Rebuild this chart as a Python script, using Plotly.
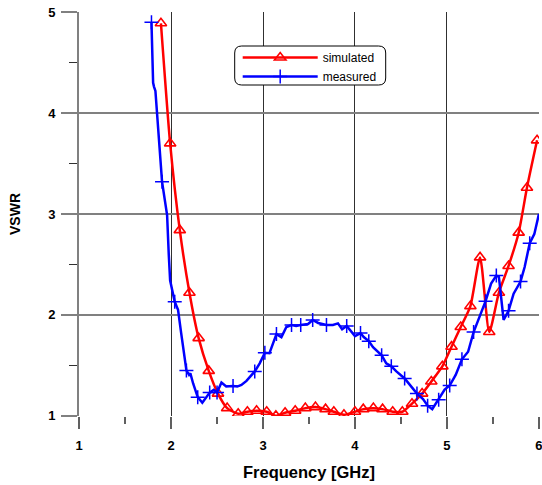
import plotly.graph_objects as go

# ---------------- data ----------------
sim_freq = [1.89, 1.99, 2.095, 2.20, 2.30, 2.41, 2.51, 2.61, 2.73, 2.83, 2.93, 3.04,
            3.14, 3.24, 3.35, 3.46, 3.57, 3.68, 3.77, 3.88, 4.00, 4.09, 4.20, 4.30,
            4.41, 4.515, 4.62, 4.73, 4.83, 4.95, 5.05, 5.15, 5.255, 5.36, 5.46, 5.565,
            5.67, 5.78, 5.87, 5.98]
sim_vswr = [4.89, 3.70, 2.84, 2.22, 1.77, 1.445, 1.22, 1.076, 1.02, 1.04, 1.05, 1.04,
            1.00, 1.03, 1.05, 1.076, 1.086, 1.066, 1.04, 1.01, 1.04, 1.066, 1.076, 1.066,
            1.04, 1.04, 1.12, 1.22, 1.34, 1.49, 1.685, 1.88, 2.087, 2.57, 1.83, 2.22,
            2.485, 2.815, 3.26, 3.73]

meas_freq = [1.787, 1.805, 1.815, 1.83, 1.902, 1.93, 1.957, 1.975, 1.99, 2.04,
             2.076, 2.11, 2.167, 2.196, 2.21, 2.24, 2.29, 2.34, 2.385, 2.42,
             2.464, 2.50, 2.548, 2.60, 2.674, 2.72, 2.765, 2.82, 2.91, 2.964,
             3.02, 3.07, 3.11, 3.146, 3.20, 3.254, 3.31, 3.36, 3.41, 3.49,
             3.54, 3.60, 3.69, 3.76, 3.815, 3.86, 3.91, 4.00, 4.06, 4.095,
             4.15, 4.196, 4.29, 4.34, 4.395, 4.45, 4.54, 4.595, 4.674, 4.74,
             4.79, 4.84, 4.91, 4.975, 5.03, 5.095, 5.163, 5.23, 5.29, 5.36,
             5.42, 5.48, 5.537, 5.565, 5.60, 5.616, 5.67, 5.725, 5.80, 5.845,
             5.90, 5.95, 6.00]
meas_vswr = [4.90, 4.30, 4.26, 4.22, 3.32, 3.13, 2.99, 2.60, 2.34, 2.13,
             2.05, 1.82, 1.45, 1.405, 1.42, 1.32, 1.185, 1.13, 1.19, 1.23,
             1.257, 1.23, 1.33, 1.29, 1.296, 1.29, 1.306, 1.346, 1.44, 1.52,
             1.625, 1.62, 1.72, 1.81, 1.78, 1.88, 1.90, 1.89, 1.90, 1.91,
             1.95, 1.92, 1.90, 1.90, 1.916, 1.857, 1.89, 1.79, 1.82, 1.78,
             1.74, 1.68, 1.60, 1.52, 1.49, 1.44, 1.37, 1.31, 1.22, 1.165,
             1.10, 1.066, 1.16, 1.26, 1.30, 1.405, 1.56, 1.635, 1.83, 2.00,
             2.136, 2.31, 2.39, 2.376, 2.08, 1.95, 2.04, 2.21, 2.33, 2.475,
             2.71, 2.80, 3.00]
# indices of measured points that carry a "+" marker
meas_marker_idx = [0, 4, 9, 12, 16, 19, 21, 24, 28, 30, 33, 36, 38, 40, 42, 46,
                   48, 50, 52, 54, 56, 58, 60, 62, 64, 66, 68, 70, 72, 76, 78, 80]

x_ticks = [1, 2, 3, 4, 5, 6]
y_ticks = [1, 2, 3, 4, 5]

# ---------------- styling ----------------
FONT = "Arial, Liberation Sans, sans-serif"
RED = "#ff0000"
BLUE = "#0000ff"
W, H = 542, 485
L, R, T, B = 79.3, 2.7, 12, 69
PW, PH = W - L - R, H - T - B


def px2paper(px, py):
    return (px - L) / PW, (H - B - py) / PH


fig = go.Figure()

fig.add_trace(go.Scatter(
    x=sim_freq, y=sim_vswr, mode="lines+markers", name="simulated",
    line=dict(color=RED, width=2.5, shape="spline", smoothing=0.6),
    marker=dict(symbol="triangle-up-open", size=10, color=RED,
                line=dict(color=RED, width=1.6)),
))

fig.add_trace(go.Scatter(
    x=meas_freq, y=meas_vswr, mode="lines", name="measured",
    line=dict(color=BLUE, width=2.5), showlegend=False, legendgroup="m",
))
fig.add_trace(go.Scatter(
    x=[meas_freq[i] for i in meas_marker_idx],
    y=[meas_vswr[i] for i in meas_marker_idx],
    mode="markers", name="measured", showlegend=False, legendgroup="m",
    marker=dict(symbol="cross-thin-open", size=10, color=BLUE,
                line=dict(color=BLUE, width=1.5)),
))
# legend entry for measured (line + marker)
fig.add_trace(go.Scatter(
    x=[None], y=[None], mode="lines+markers", name="measured", legendgroup="m",
    line=dict(color=BLUE, width=2.5),
    marker=dict(symbol="cross-thin-open", size=10, color=BLUE,
                line=dict(color=BLUE, width=1.5)),
))

# rounded legend frame
x0, y1 = px2paper(235, 46)
x1, y0 = px2paper(386, 85)
rx, ry = 7 / PW, 7 / PH
path = (f"M {x0+rx},{y1} L {x1-rx},{y1} Q {x1},{y1} {x1},{y1-ry} "
        f"L {x1},{y0+ry} Q {x1},{y0} {x1-rx},{y0} "
        f"L {x0+rx},{y0} Q {x0},{y0} {x0},{y0+ry} "
        f"L {x0},{y1-ry} Q {x0},{y1} {x0+rx},{y1} Z")
fig.add_shape(type="path", path=path, xref="paper", yref="paper",
              line=dict(color="black", width=1), fillcolor="white", layer="above")

lx, ly = px2paper(238, 43)

fig.update_layout(
    width=W, height=H,
    margin=dict(l=L, r=R, t=T, b=B, pad=0),
    paper_bgcolor="white", plot_bgcolor="white",
    font=dict(family=FONT, color="black"),
    showlegend=True,
    legend=dict(x=lx, y=ly, xanchor="left", yanchor="top",
                bgcolor="rgba(0,0,0,0)", borderwidth=0,
                font=dict(family=FONT, size=12, color="black"),
                itemwidth=75, traceorder="normal", tracegroupgap=0),
    xaxis=dict(
        range=[0.999, 6.001], tickvals=x_ticks, ticktext=[str(v) for v in x_ticks],
        showgrid=True, gridcolor="#303030", gridwidth=1,
        ticks="outside", ticklen=12, tickcolor="#606060", tickwidth=1.5,
        minor=dict(dtick=0.5, ticks="outside", ticklen=7, tickcolor="#606060",
                   tickwidth=1.5, showgrid=False),
        showline=False, zeroline=False,
        ticklabeloverflow="allow", ticklabelstandoff=5,
        tickfont=dict(family=FONT, size=13, weight="bold"),
        title=dict(text="Frequency [GHz]", standoff=14,
                   font=dict(family=FONT, size=16.5, weight="bold")),
        automargin=False,
    ),
    yaxis=dict(
        range=[0.998, 5.002], tickvals=y_ticks, ticktext=[str(v) for v in y_ticks],
        showgrid=True, gridcolor="#808080", gridwidth=1.6,
        ticks="outside", ticklen=16, tickcolor="#808080", tickwidth=1.6,
        minor=dict(dtick=0.5, ticks="outside", ticklen=8, tickcolor="#303030",
                   tickwidth=1.2, showgrid=False),
        showline=True, linecolor="#808080", linewidth=1.6, zeroline=False,
        ticklabeloverflow="allow", ticklabelstandoff=3,
        tickfont=dict(family=FONT, size=13, weight="bold"),
        title=dict(text="VSWR", standoff=24,
                   font=dict(family=FONT, size=14, weight="bold")),
        automargin=False,
    ),
)

fig.write_html("out.html")
